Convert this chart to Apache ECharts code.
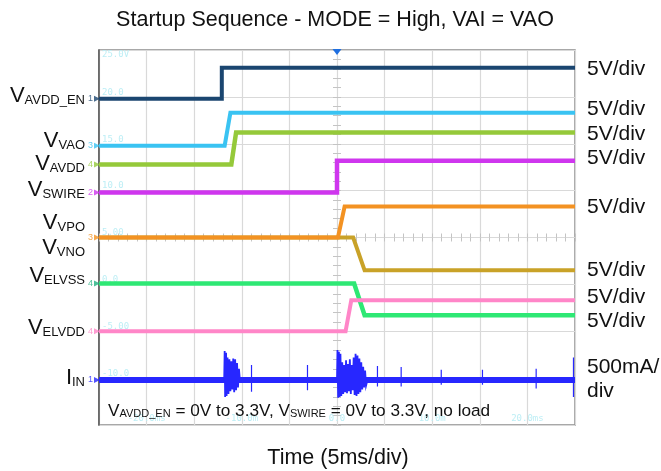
<!DOCTYPE html>
<html><head><meta charset="utf-8">
<script src="https://cdn.jsdelivr.net/npm/echarts@6/dist/echarts.min.js"></script>
<style>html,body{margin:0;padding:0;background:#fff}#c{width:661px;height:471px}</style>
</head><body><div id="c"></div>
<script>
// ---- axis ranges: time in ms (5 ms/div, 10 div), vertical in screen volts (5 per div, 8 div)
const timeRange = [-25, 25];
const timeStep = 5;
const levelRange = [-15, 25];
const levelStep = 5;
const timeTickLabels = {'-20': '-20.0ms', '-10': '-10.0m', '0': '0.0', '10': '10.0m', '20': '20.0ms'};
const levelTickLabels = {'25': '25.0V', '20': '20.0', '15': '15.0', '10': '10.0', '5': '5.00', '0': '0.0', '-5': '-5.00', '-10': '-10.0'};

// ---- traces: [time ms, screen level]
const avddEnTrace = [[-25, 19.8], [-12.1, 19.8], [-12.1, 23.1], [25, 23.1]];
const vaoTrace    = [[-25, 14.8], [-11.8, 14.8], [-11.2, 18.3], [25, 18.3]];
const avddTrace   = [[-25, 12.8], [-11.1, 12.8], [-10.6, 16.2], [25, 16.2]];
const swireTrace  = [[-25, 9.8], [0, 9.8], [0, 13.2], [25, 13.2]];
const vnoTrace    = [[-25, 5.0], [1.7, 5.0], [2.9, 1.5], [25, 1.5]];
const vpoTrace    = [[-25, 5.0], [0.1, 5.0], [0.8, 8.3], [25, 8.3]];
const elvssTrace  = [[-25, 0.1], [1.8, 0.1], [2.9, -3.3], [25, -3.3]];
const elvddTrace  = [[-25, -5.0], [0.9, -5.0], [1.5, -1.7], [25, -1.7]];
const iinBaseline = -10.2;
const iinBurst1 = [[-11.85, -10.2], [-11.8, -7.1], [-11.75, -12.0], [-11.65, -7.3], [-11.6, -11.9], [-11.5, -7.8],
  [-11.4, -11.7], [-11.3, -8.0], [-11.2, -11.4], [-11.1, -8.2], [-11.0, -11.2], [-10.9, -7.9], [-10.8, -11.5],
  [-10.7, -8.0], [-10.6, -11.3], [-10.5, -8.4], [-10.4, -11.0], [-10.3, -9.0], [-10.2, -10.2]];
const iinBurst2 = [[0.0, -10.2], [0.05, -7.0], [0.12, -12.1], [0.2, -7.2], [0.28, -12.0], [0.36, -7.4], [0.45, -11.9],
  [0.55, -8.3], [0.65, -11.7], [0.75, -8.6], [0.85, -11.5], [0.95, -8.1], [1.05, -11.6], [1.15, -8.5], [1.25, -11.4],
  [1.35, -8.0], [1.45, -11.7], [1.55, -8.6], [1.65, -11.3], [1.75, -7.8], [1.85, -11.8], [1.95, -7.4], [2.05, -11.9],
  [2.15, -7.6], [2.25, -11.7], [2.35, -7.9], [2.45, -11.5], [2.55, -8.3], [2.65, -11.2], [2.75, -8.8], [2.85, -11.0],
  [2.95, -9.2], [3.05, -10.8], [3.2, -10.2]];
// isolated current spikes: [time, top, bottom]
const iinSpikes = [[-8.98, -8.6, -11.45], [-3.1, -8.6, -11.3], [4.25, -8.7, -10.9], [6.74, -8.8, -10.9],
  [10.95, -9.1, -10.7], [15.28, -9.1, -10.7], [20.92, -9.0, -11.1], [24.84, -7.8, -12.0]];

// ---- labels
const leftLabelText = [['V', 'AVDD_EN'], ['V', 'VAO'], ['V', 'AVDD'], ['V', 'SWIRE'], ['V', 'VPO'], ['V', 'VNO'], ['V', 'ELVSS'], ['V', 'ELVDD'], ['I', 'IN']];
const rightLabelText = ['5V/div', '5V/div', '5V/div', '5V/div', '5V/div', '5V/div', '5V/div', '5V/div', '500mA/', 'div'];
const titleText = 'Startup Sequence - MODE = High, VAI = VAO';
const xAxisTitle = 'Time (5ms/div)';

// ---- layout (pixels)
const G = {left: 99, top: 50, width: 476, height: 375};
const leftLabelY = [96, 141, 164, 190, 223, 248, 276, 328, 378];
const rightLabelY = [69, 109, 134, 158, 207, 270, 297, 321, 367, 391];
const FONT = '"Liberation Sans", Arial, sans-serif';

const chart = echarts.init(document.getElementById('c'), null, {renderer: 'canvas'});

function lineSeries(data, color, width, z) {
  return {type: 'line', data: data, showSymbol: false, symbol: 'none', animation: false, z: z,
    lineStyle: {color: color, width: width, cap: 'butt', join: 'miter'}, itemStyle: {color: color}};
}
const traceColors = {
  avddEn: '#1b4670', vao: '#3ac3f2', avdd: '#95c93a', swire: '#cf36ee', vno: '#c9a228',
  vpo: '#f39222', elvss: '#2ee874', elvdd: '#ff86c8', iin: '#2727ff'
};

// channel ground markers built from each trace's starting level
const markerDefs = [
  [avddEnTrace, '1', traceColors.avddEn], [vaoTrace, '3', traceColors.vao], [avddTrace, '4', traceColors.avdd],
  [swireTrace, '2', traceColors.swire], [vpoTrace, '3', traceColors.vpo], [elvssTrace, '4', '#20b080'],
  [elvddTrace, '4', traceColors.elvdd], [[[timeRange[0], iinBaseline]], '1', traceColors.iin]
];
const markerSeries = markerDefs.map(function (m) {
  return {type: 'scatter', data: [[timeRange[0], m[0][0][1]]], symbol: 'triangle', symbolRotate: -90,
    symbolSize: [6, 6], symbolOffset: [-2, 0], clip: false, z: 20, animation: false, silent: true,
    itemStyle: {color: m[2]},
    label: {show: true, position: 'left', distance: 1, formatter: m[1], color: m[2], fontSize: 9, fontFamily: FONT}};
});

const spikeData = [];
iinSpikes.forEach(function (s) { spikeData.push([s[0], s[1]], [s[0], s[2]], [s[0], '-']); });

const series = [
  lineSeries(avddEnTrace, traceColors.avddEn, 4, 5),
  lineSeries(vaoTrace, traceColors.vao, 4, 5),
  lineSeries(avddTrace, traceColors.avdd, 4.5, 5),
  lineSeries(swireTrace, traceColors.swire, 4.5, 5),
  lineSeries(vnoTrace, traceColors.vno, 4, 5),
  lineSeries(vpoTrace, traceColors.vpo, 4, 6),
  lineSeries(elvssTrace, traceColors.elvss, 4.5, 5),
  lineSeries(elvddTrace, traceColors.elvdd, 4, 6),
  lineSeries([[timeRange[0], iinBaseline], [timeRange[1], iinBaseline]], traceColors.iin, 6, 5),
  lineSeries(iinBurst1, traceColors.iin, 1.8, 6),
  lineSeries(iinBurst2, traceColors.iin, 1.8, 6),
  lineSeries(spikeData, traceColors.iin, 1.2, 6)
].concat(markerSeries);

// trigger marker at time zero on top edge
series[0].markPoint = {symbol: 'triangle', symbolRotate: 180, symbolSize: [9, 6], symbolOffset: [0, 2], silent: true,
  itemStyle: {color: '#1f6fe0'}, label: {show: false}, data: [{coord: [0, levelRange[1]]}]};

const tickStyle = {color: '#c4c4c4', width: 1};
const centerTickAxis = function (inside) {
  return {type: 'value', min: timeRange[0], max: timeRange[1], interval: timeStep, position: 'bottom',
    offset: -G.height / 2, axisLine: {show: false, onZero: false}, splitLine: {show: false}, axisLabel: {show: false},
    axisTick: {show: true, inside: inside, length: 4, lineStyle: tickStyle},
    minorTick: {show: true, splitNumber: 5, length: 4, lineStyle: tickStyle}};
};
const centerTickYAxis = function (inside) {
  return {type: 'value', min: levelRange[0], max: levelRange[1], interval: levelStep, position: 'left',
    offset: -G.width / 2, axisLine: {show: false, onZero: false}, splitLine: {show: false}, axisLabel: {show: false},
    axisTick: {show: true, inside: inside, length: 4, lineStyle: tickStyle},
    minorTick: {show: true, splitNumber: 5, length: 4, lineStyle: tickStyle}};
};

const graphic = [];
graphic.push({type: 'text', x: 335, y: 20, z: 100, style: {text: titleText, font: '21.5px ' + FONT, fill: '#111', align: 'center', verticalAlign: 'middle'}});
graphic.push({type: 'text', x: 338, y: 458, z: 100, style: {text: xAxisTitle, font: '21.5px ' + FONT, fill: '#111', align: 'center', verticalAlign: 'middle'}});
leftLabelText.forEach(function (t, i) {
  graphic.push({type: 'text', x: 85, y: leftLabelY[i], z: 100, style: {
    text: '{v|' + t[0] + '}{s|' + t[1] + '}', align: 'right', verticalAlign: 'middle', fill: '#111',
    rich: {v: {fontSize: 22, fontFamily: FONT, fill: '#111', lineHeight: 24},
           s: {fontSize: 13, fontFamily: FONT, fill: '#111', lineHeight: 24, padding: [8, 0, 0, 0]}}}});
});
rightLabelText.forEach(function (t, i) {
  graphic.push({type: 'text', x: 587, y: rightLabelY[i], z: 100, style: {text: t, font: '21px ' + FONT, fill: '#111', align: 'left', verticalAlign: 'middle'}});
});
graphic.push({type: 'text', x: 108, y: 411, z: 100, style: {
  text: '{v|V}{s|AVDD_EN}{v| = 0V to 3.3V, V}{s|SWIRE}{v| = 0V to 3.3V, no load}', align: 'left', verticalAlign: 'middle', fill: '#111',
  rich: {v: {fontSize: 17.2, fontFamily: FONT, fill: '#111', lineHeight: 20},
         s: {fontSize: 11, fontFamily: FONT, fill: '#111', lineHeight: 20, padding: [6, 0, 0, 0]}}}});

chart.setOption({
  animation: false,
  backgroundColor: '#ffffff',
  grid: {left: G.left, top: G.top, width: G.width, height: G.height, show: true, borderColor: '#8c8c8c', borderWidth: 1.5, backgroundColor: '#fff'},
  xAxis: [
    {type: 'value', min: timeRange[0], max: timeRange[1], interval: timeStep,
     axisLine: {show: false, onZero: false}, axisTick: {show: false},
     splitLine: {show: true, lineStyle: {color: '#d9d9d9', width: 1.2}},
     axisLabel: {inside: true, margin: 2, fontSize: 9, color: '#bdeef5', fontFamily: '"DejaVu Sans Mono", monospace',
       formatter: function (v) { return timeTickLabels[String(v)] || ''; }}},
    centerTickAxis(true), centerTickAxis(false)
  ],
  yAxis: [
    {type: 'value', min: levelRange[0], max: levelRange[1], interval: levelStep,
     axisLine: {show: true, onZero: false, lineStyle: {color: '#555', width: 1.5}}, axisTick: {show: false},
     splitLine: {show: true, lineStyle: {color: '#d9d9d9', width: 1.2}},
     axisLabel: {inside: true, margin: 3, fontSize: 9, color: '#bdeef5', fontFamily: '"DejaVu Sans Mono", monospace',
       verticalAlign: 'bottom', verticalAlignMaxLabel: 'top',
       formatter: function (v) { return levelTickLabels[String(v)] || ''; }}},
    centerTickYAxis(true), centerTickYAxis(false)
  ],
  series: series,
  graphic: graphic
});
</script></body></html>
